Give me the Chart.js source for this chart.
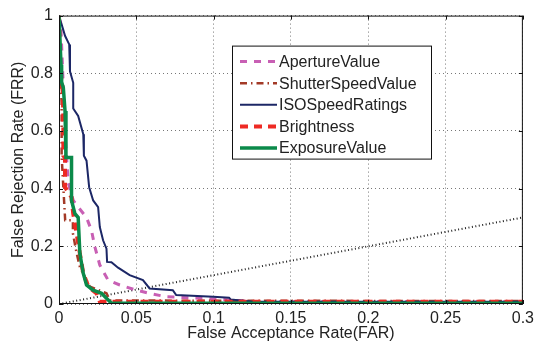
<!DOCTYPE html>
<html>
<head>
<meta charset="utf-8">
<script src="https://cdn.jsdelivr.net/npm/chart.js@4/dist/chart.umd.min.js"></script>
<style>
  html, body { margin: 0; padding: 0; background: #fff; }
  #wrap { width: 539px; height: 342px; }
</style>
</head>
<body>
<div id="wrap"><canvas id="roc"></canvas></div>
<script>
// tick labels
var farTicks = [0, 0.05, 0.1, 0.15, 0.2, 0.25, 0.3];
var farLabels = ["0", "0.05", "0.1", "0.15", "0.2", "0.25", "0.3"];
var frrTicks = [0, 0.2, 0.4, 0.6, 0.8, 1];
var frrLabels = ["0", "0.2", "0.4", "0.6", "0.8", "1"];

var seriesNames = ["ApertureValue", "ShutterSpeedValue", "ISOSpeedRatings", "Brightness", "ExposureValue"];

// ApertureValue
var apertureFar = [0, 0.0013, 0.0028, 0.0039, 0.006, 0.0092, 0.0124, 0.0178, 0.021, 0.0232, 0.0264, 0.0317, 0.0393, 0.05, 0.0586, 0.0694, 0.093, 0.11, 0.125, 0.3];
var apertureFrr = [1, 0.95, 0.75, 0.59, 0.42, 0.359, 0.336, 0.30, 0.255, 0.198, 0.135, 0.083, 0.066, 0.048, 0.037, 0.025, 0.02, 0.014, 0.009, 0.008];

// ShutterSpeedValue
var shutterFar = [0, 0.0006, 0.0017, 0.0017, 0.0028, 0.004, 0.009, 0.009, 0.0114, 0.0135, 0.0178, 0.02, 0.0307, 0.0328, 0.3];
var shutterFrr = [1, 0.80, 0.70, 0.514, 0.405, 0.29, 0.29, 0.245, 0.176, 0.129, 0.083, 0.06, 0.037, 0.012, 0.01];

// ISOSpeedRatings
var isoFar = [0, 0.0039, 0.0066, 0.0071, 0.0092, 0.0092, 0.0124, 0.0157, 0.0161, 0.0178, 0.0195, 0.0221, 0.0253, 0.0264, 0.0285, 0.0307, 0.0311, 0.0339, 0.0382, 0.0457, 0.0543, 0.0586, 0.0736, 0.0758, 0.0997, 0.110, 0.111, 0.124, 0.3];
var isoFrr = [1, 0.93, 0.90, 0.807, 0.767, 0.678, 0.652, 0.589, 0.514, 0.497, 0.405, 0.359, 0.336, 0.267, 0.221, 0.192, 0.146, 0.145, 0.126, 0.10, 0.083, 0.054, 0.048, 0.031, 0.025, 0.022, 0.016, 0.009, 0.008];

// Brightness
var brightFar = [0, 0.0006, 0.0024, 0.0028, 0.0028, 0.0039, 0.0039, 0.0081, 0.0092, 0.0114, 0.0135, 0.0157, 0.019, 0.0243, 0.0264, 0.3];
var brightFrr = [1, 0.82, 0.738, 0.646, 0.514, 0.508, 0.405, 0.37, 0.313, 0.244, 0.175, 0.106, 0.06, 0.037, 0.008, 0.008];

// ExposureValue
var exposureFar = [0, 0.0013, 0.0017, 0.0028, 0.0039, 0.0045, 0.0081, 0.0081, 0.0103, 0.0124, 0.0135, 0.0157, 0.0178, 0.022, 0.0275, 0.0307, 0.0339, 0.3];
var exposureFrr = [1, 0.83, 0.77, 0.75, 0.669, 0.508, 0.508, 0.359, 0.313, 0.30, 0.175, 0.106, 0.066, 0.048, 0.037, 0.02, 0.003, 0.003];

// FAR = FRR line
var eerFar = [0, 0.3];
var eerFrr = [0, 0.3];

function toPoints(xs, ys) {
  var pts = [];
  for (var i = 0; i < xs.length; i++) {
    pts.push({x: xs[i], y: ys[i]});
  }
  return pts;
}

var FONT = "'Liberation Sans', Arial, Helvetica, sans-serif";

// frame, inward tick marks and the boxed legend, matlab style
var matlabPlugin = {
  id: "matlabFrame",
  afterDatasetsDraw: function(chart) {
    var ctx = chart.ctx;
    var a = chart.chartArea;
    var xs = chart.scales.x;
    var ys = chart.scales.y;
    ctx.save();
    ctx.strokeStyle = "#111";
    ctx.lineWidth = 1;
    ctx.strokeRect(a.left + 0.5, a.top + 0.5, a.right - a.left - 1, a.bottom - a.top - 1);
    ctx.beginPath();
    for (var i = 0; i < farTicks.length; i++) {
      var px = Math.round(xs.getPixelForValue(farTicks[i])) + 0.5;
      ctx.moveTo(px, a.bottom); ctx.lineTo(px, a.bottom - 4);
      ctx.moveTo(px, a.top); ctx.lineTo(px, a.top + 4);
    }
    for (var j = 0; j < frrTicks.length; j++) {
      var py = Math.round(ys.getPixelForValue(frrTicks[j])) + 0.5;
      ctx.moveTo(a.left, py); ctx.lineTo(a.left + 4, py);
      ctx.moveTo(a.right, py); ctx.lineTo(a.right - 4, py);
    }
    ctx.stroke();

    // legend box
    var bx = a.left + 173, by = a.top + 30, bw = 199, bh = 113;
    ctx.fillStyle = "#fff";
    ctx.fillRect(bx, by, bw, bh);
    ctx.strokeStyle = "#111";
    ctx.strokeRect(bx + 0.5, by + 0.5, bw, bh);
    ctx.font = "16px " + FONT;
    ctx.textBaseline = "middle";
    for (var k = 0; k < seriesNames.length; k++) {
      var ds = chart.data.datasets[k];
      var ry = by + 16 + k * 21.6;
      ctx.beginPath();
      ctx.setLineDash(ds.borderDash || []);
      ctx.lineWidth = ds.borderWidth;
      ctx.strokeStyle = ds.borderColor;
      ctx.moveTo(bx + 8, ry);
      ctx.lineTo(bx + 45, ry);
      ctx.stroke();
      ctx.setLineDash([]);
      ctx.fillStyle = "#222";
      ctx.fillText(seriesNames[k], bx + 47, ry + 1);
    }
    ctx.restore();
  }
};

var ctx = document.getElementById("roc").getContext("2d");

var rocChart = new Chart(ctx, {
  type: "line",
  data: {
    datasets: [
      {
        label: seriesNames[0],
        data: toPoints(apertureFar, apertureFrr),
        borderColor: "#c85fb4",
        borderWidth: 3,
        borderDash: [7, 7],
        order: 5
      },
      {
        label: seriesNames[1],
        data: toPoints(shutterFar, shutterFrr),
        borderColor: "#a33a27",
        borderWidth: 2.5,
        borderDash: [7, 4, 1.5, 4],
        order: 4
      },
      {
        label: seriesNames[2],
        data: toPoints(isoFar, isoFrr),
        borderColor: "#1c2766",
        borderWidth: 2,
        order: 3
      },
      {
        label: seriesNames[3],
        data: toPoints(brightFar, brightFrr),
        borderColor: "#ee2a24",
        borderWidth: 4,
        borderDash: [8, 6],
        order: 2
      },
      {
        label: seriesNames[4],
        data: toPoints(exposureFar, exposureFrr),
        borderColor: "#0b8a4a",
        borderWidth: 3.5,
        order: 1
      },
      {
        label: "EER",
        data: toPoints(eerFar, eerFrr),
        borderColor: "#222",
        borderWidth: 2,
        borderDash: [1, 2.5],
        order: 6
      }
    ]
  },
  options: {
    responsive: true,
    maintainAspectRatio: false,
    animation: false,
    layout: { padding: { left: 0, right: 13, top: 14, bottom: 0 } },
    elements: {
      point: { radius: 0, hoverRadius: 0 },
      line: { tension: 0, fill: false }
    },
    plugins: {
      legend: { display: false },
      tooltip: { enabled: false }
    },
    scales: {
      x: {
        type: "linear",
        min: 0,
        max: 0.3,
        afterBuildTicks: function(scale) {
          scale.ticks = farTicks.map(function(v) { return {value: v}; });
        },
        afterFit: function(scale) { scale.height = 38; },
        ticks: {
          padding: 5,
          maxRotation: 0,
          color: "#222",
          font: { family: FONT, size: 16 },
          callback: function(v) {
            var idx = farTicks.indexOf(v);
            return idx >= 0 ? farLabels[idx] : "";
          }
        },
        grid: {
          color: "#777",
          lineWidth: 1,
          drawTicks: false
        },
        border: { display: false, dash: [1, 3] },
        title: {
          display: true,
          text: "False Acceptance Rate(FAR)",
          color: "#222",
          font: { family: FONT, size: 16, lineHeight: 1 },
          padding: { top: 0, bottom: 0 }
        }
      },
      y: {
        type: "linear",
        min: 0,
        max: 1,
        afterBuildTicks: function(scale) {
          scale.ticks = frrTicks.map(function(v) { return {value: v}; });
        },
        afterFit: function(scale) { scale.width = 59; },
        ticks: {
          padding: 6,
          color: "#222",
          font: { family: FONT, size: 16 },
          callback: function(v) {
            var idx = frrTicks.indexOf(v);
            return idx >= 0 ? frrLabels[idx] : "";
          }
        },
        grid: {
          color: "#777",
          lineWidth: 1,
          drawTicks: false
        },
        border: { display: false, dash: [1, 3] },
        title: {
          display: true,
          text: "False Rejection Rate (FRR)",
          color: "#222",
          font: { family: FONT, size: 16 },
          padding: { top: 9, bottom: 0 }
        }
      }
    }
  },
  plugins: [matlabPlugin]
});
</script>
</body>
</html>
